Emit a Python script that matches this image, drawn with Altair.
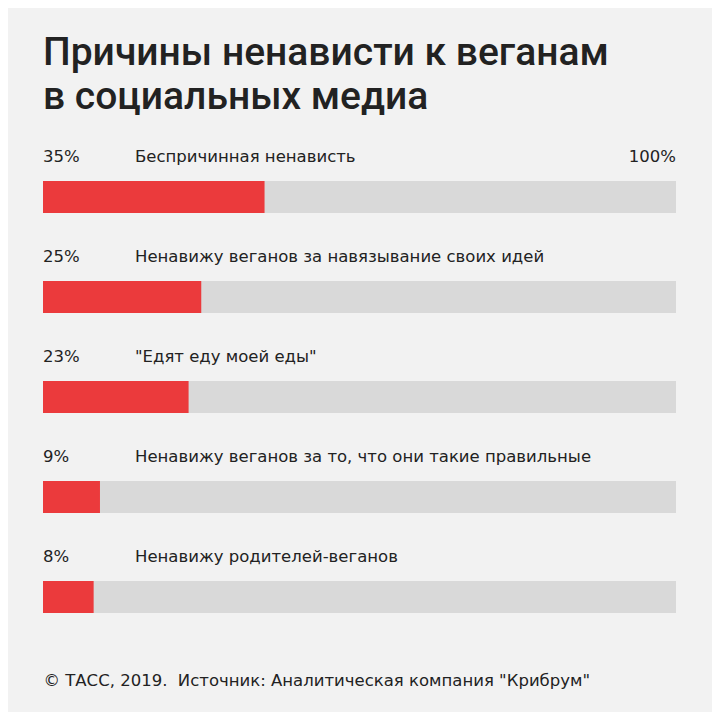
import altair as alt
import pandas as pd

categories = [
    "Беспричинная ненависть",
    "Ненавижу веганов за навязывание своих идей",
    "\"Едят еду моей еды\"",
    "Ненавижу веганов за то, что они такие правильные",
    "Ненавижу родителей-веганов",
]
values = [35, 25, 23, 9, 8]
pct_labels = ["35%", "25%", "23%", "9%", "8%"]
max_label = "100%"
title_lines = ["Причины ненависти к веганам", "в социальных медиа"]
footer = "© ТАСС, 2019.\u00a0 Источник: Аналитическая компания \"Крибрум\""

df = pd.DataFrame({"cat": categories, "value": values, "pct": pct_labels, "full": [100] * len(values)})
df_max = pd.DataFrame({"cat": [categories[0]], "full": [100], "txt": [max_label]})

FONT = "DejaVu Sans"
TFONT = "Roboto"
FS = 16.5
TXT = "#222222"

xs = alt.Scale(domain=[0, 100], range=[0, 633])
ys = alt.Scale(domain=categories, paddingInner=0, paddingOuter=0)
yenc = alt.Y("cat:N", scale=ys, axis=None, sort=categories)

base = alt.Chart(df)

bg = base.mark_bar(color="#d9d9d9", size=32, yOffset=7).encode(
    x=alt.X("full:Q", scale=xs,
            axis=alt.Axis(labels=False, ticks=False, domain=False, grid=False,
                          title=footer, titleFont=FONT, titleFontSize=FS, titleFontWeight="normal",
                          titleColor=TXT, titleAnchor="start", titleAlign="left",
                          titleX=0, titleY=45, titleBaseline="alphabetic")),
    y=yenc,
)
fg = base.mark_bar(color="#eb3a3c", size=32, yOffset=7).encode(
    x=alt.X("value:Q", scale=xs),
    y=yenc,
)
pct = base.mark_text(align="left", baseline="middle", dy=-33, font=FONT, fontSize=FS, color=TXT).encode(
    x=alt.X("zero:Q", scale=xs),
    y=yenc,
    text="pct:N",
).transform_calculate(zero="0")
lab = base.mark_text(align="left", baseline="middle", dy=-33, dx=92, font=FONT, fontSize=FS, color=TXT).encode(
    x=alt.X("zero:Q", scale=xs),
    y=yenc,
    text="cat:N",
).transform_calculate(zero="0")
mx = alt.Chart(df_max).mark_text(align="right", baseline="middle", dy=-33, font=FONT, fontSize=FS, color=TXT).encode(
    x=alt.X("full:Q", scale=xs),
    y=yenc,
    text="txt:N",
)

chart = alt.layer(bg, fg, pct, lab, mx).properties(
    width=633,
    height=500,
    title=alt.Title(text=title_lines, font=TFONT, fontSize=39, fontWeight=500, color=TXT,
                    anchor="start", frame="group", baseline="alphabetic", lineHeight=44, offset=-8),
    padding={"left": 35, "top": 132, "right": 36, "bottom": 72},
    autosize=alt.AutoSizeParams(type="none"),
    background="#f2f2f2",
).configure_view(stroke=None).configure_axis(grid=False)

chart.save("out.html", embed_options={"renderer": "svg", "actions": False})
